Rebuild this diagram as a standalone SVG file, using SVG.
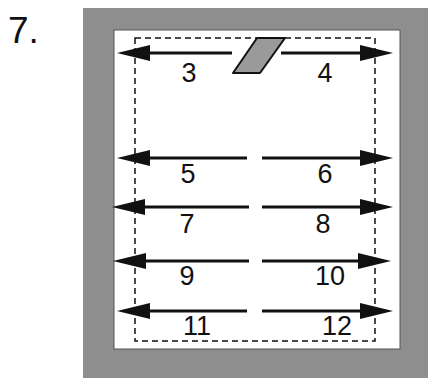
<svg xmlns="http://www.w3.org/2000/svg" width="428" height="378" viewBox="0 0 428 378">
<style>
.lbl{font-family:"Liberation Sans",Arial,sans-serif;font-size:27px;fill:#111;text-anchor:middle}
.arr{stroke:#111;stroke-width:3;fill:none;marker-end:url(#ah)}
</style>
<defs>
<marker id="ah" markerUnits="userSpaceOnUse" markerWidth="36" markerHeight="20" viewBox="0 -10 36 20" refX="0" refY="0" orient="auto">
<path d="M0,-8 L33,0 L0,8 Z" fill="#111"/>
</marker>
</defs>
<rect width="428" height="378" fill="#fff"/>
<text x="8" y="43" style="font-family:'Liberation Sans',Arial,sans-serif;font-size:37px;fill:#111">7.</text>
<g id="frame">
<rect x="83" y="8" width="345" height="370" fill="#8e8e8e"/>
<rect x="114" y="30" width="286" height="319" fill="#fff" stroke="#555" stroke-width="1"/>
<rect x="135" y="38" width="240" height="303" fill="none" stroke="#111" stroke-width="1.5" stroke-dasharray="6,4"/>
</g>
<g id="part">
<polygon points="257,38 285,38 260,73 233,73" fill="#9a9a9a" stroke="#111" stroke-width="2" stroke-linejoin="round"/>
</g>
<g id="connectors">
<line class="arr" x1="232" y1="53" x2="150" y2="53"/>
<line class="arr" x1="281" y1="53" x2="360" y2="53"/>
<line class="arr" x1="247" y1="158" x2="150" y2="158"/>
<line class="arr" x1="262" y1="158" x2="360" y2="158"/>
<line class="arr" x1="249" y1="207" x2="145" y2="207"/>
<line class="arr" x1="262" y1="207" x2="360" y2="207"/>
<line class="arr" x1="249" y1="261" x2="146" y2="261"/>
<line class="arr" x1="262" y1="261" x2="358" y2="261"/>
<line class="arr" x1="247" y1="311" x2="150" y2="311"/>
<line class="arr" x1="262" y1="311" x2="360" y2="311"/>
</g>
<g id="labels">
<text class="lbl" x="189" y="82">3</text>
<text class="lbl" x="325" y="82">4</text>
<text class="lbl" x="188" y="183">5</text>
<text class="lbl" x="325" y="183">6</text>
<text class="lbl" x="187" y="233">7</text>
<text class="lbl" x="323" y="233">8</text>
<text class="lbl" x="187" y="285">9</text>
<text class="lbl" x="330" y="285">10</text>
<text class="lbl" x="197" y="335">11</text>
<text class="lbl" x="337" y="335">12</text>
</g>
</svg>
